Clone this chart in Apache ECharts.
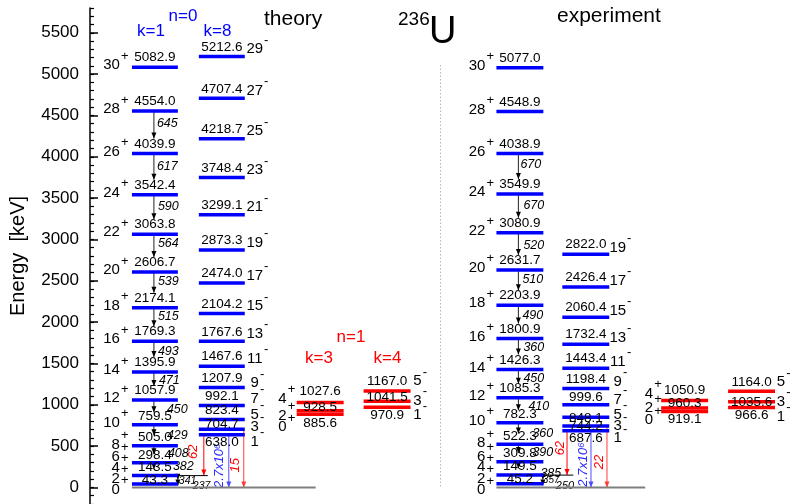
<!DOCTYPE html>
<html>
<head>
<meta charset="utf-8">
<title>236U level scheme</title>
<script src="https://cdn.jsdelivr.net/npm/echarts@6/dist/echarts.min.js"></script>
<style>
  html, body { margin: 0; padding: 0; background: #fff; }
  #chart { width: 792px; height: 504px; }
</style>
</head>
<body>
<div id="chart"></div>
<script>
// ---------- level energies (keV) ----------
const energyTicks = [0, 500, 1000, 1500, 2000, 2500, 3000, 3500, 4000, 4500, 5000, 5500];

// theory, n=0, K=1 (positive parity)
const thK1Spins = [0, 2, 4, 6, 8, 10, 12, 14, 16, 18, 20, 22, 24, 26, 28, 30];
const thK1Energies = [0, 43.3, 143.5, 298.4, 505.0, 759.5, 1057.9, 1395.9, 1769.3, 2174.1, 2606.7, 3063.8, 3542.4, 4039.9, 4554.0, 5082.9];
// gamma energies, 2->0, 4->2, ... 28->26
const thK1Gammas = [237, 341, 382, 408, 429, 450, 471, 493, 515, 539, 564, 590, 617, 645];

// theory, n=0, K=8 (negative parity)
const thK8Spins = [1, 3, 5, 7, 9, 11, 13, 15, 17, 19, 21, 23, 25, 27, 29];
const thK8Energies = [638.0, 704.7, 823.4, 992.1, 1207.9, 1467.6, 1767.6, 2104.2, 2474.0, 2873.3, 3299.1, 3748.4, 4218.7, 4707.4, 5212.6];

// theory, n=1, K=3 and K=4
const thK3Spins = [0, 2, 4];
const thK3Energies = [885.6, 928.5, 1027.6];
const thK4Spins = [1, 3, 5];
const thK4Energies = [970.9, 1041.5, 1167.0];

// experiment, K=1 band
const exK1Spins = [0, 2, 4, 6, 8, 10, 12, 14, 16, 18, 20, 22, 24, 26, 28, 30];
const exK1Energies = [0, 45.2, 149.5, 309.8, 522.3, 782.3, 1085.3, 1426.3, 1800.9, 2203.9, 2631.7, 3080.9, 3549.9, 4038.9, 4548.9, 5077.0];
// gamma energies, 2->0 ... 26->24
const exK1Gammas = [250, 357, 385, 390, 360, 410, 450, 360, 490, 510, 520, 670, 670];

// experiment, K=8 band
const exK8Spins = [1, 3, 5, 7, 9, 11, 13, 15, 17, 19];
const exK8Energies = [687.6, 744.2, 848.1, 999.6, 1198.4, 1443.4, 1732.4, 2060.4, 2426.4, 2822.0];

// experiment, n=1 bands
const exK3Spins = [0, 2, 4];
const exK3Energies = [919.1, 960.3, 1050.9];
const exK4Spins = [1, 3, 5];
const exK4Energies = [966.6, 1035.6, 1164.0];

// decay-out labels of the 1- / 3- states
const thDecayLabels = ['62', '2.7x10\u2076', '15'];
const exDecayLabels = ['62', '2.7x10\u2076', '22'];

// ---------- styling / layout ----------
const FONT = "'Liberation Sans', Arial, Helvetica, sans-serif";
const BLUE = '#0000ff';
const RED = '#ff0000';
const GREY = '#7f7f7f';

// horizontal placement of columns (x axis units, 0..703)
const layout = {
  th: { k1: [42, 88], k8: [109, 155], k3: [207, 254], k4: [274, 321], ground: [42, 226], ext: [88, 118],
        casc: 64, cascRight: 88, decayX: [114, 139, 154] },
  ex: { k1: [407, 454], k8: [473, 520], k3: [572, 619], k4: [639, 686], ground: [407, 556], ext: [454, 484],
        casc: 429, cascRight: 453.5, decayX: [477.7, 501.7, 517.7] },
  divider: 351
};

// per-band label offsets in pixels (keyed by spin)
const bands = [
  { spins: thK1Spins, energies: thK1Energies, xs: layout.th.k1, color: BLUE, sign: '+', side: 'left', ground: layout.th.ground,
    eDy: { d: -9.5, 2: -4, 4: -8.5, 6: -7.5, 8: -8, 10: -8 }, sDy: { d: -2, 0: 2, 2: -5, 4: -8, 6: -6, 8: -1 }, sGap: 12 },
  { spins: thK8Spins, energies: thK8Energies, xs: layout.th.k8, color: BLUE, sign: '-', side: 'right',
    eDy: { d: -9.5, 1: 8, 3: -5, 5: -9 }, sDy: { d: -7.5, 1: 7, 3: -2.5, 5: -4.5, 7: -7, 9: -4.5 }, sGap: 10 },
  { spins: thK3Spins, energies: thK3Energies, xs: layout.th.k3, color: RED, sign: '+', side: 'left',
    eDy: { d: -9, 0: 9.5, 2: -3.6, 4: -11.4 }, sDy: { d: 0, 0: 13, 2: 5, 4: -4 }, sGap: 10 },
  { spins: thK4Spins, energies: thK4Energies, xs: layout.th.k4, color: RED, sign: '-', side: 'right',
    eDy: { d: -9, 1: 8, 3: -4.3, 5: -10 }, sDy: { d: 0, 1: 8, 3: -1, 5: -10 }, sGap: 7 },
  { spins: exK1Spins, energies: exK1Energies, xs: layout.ex.k1, color: BLUE, sign: '+', side: 'left', ground: layout.ex.ground,
    eDy: { d: -9.5, 2: -4.5, 4: -8.5, 6: -8.5, 8: -8.5, 10: -8.5 }, sDy: { d: -2, 0: 2.5, 2: -5, 4: -8, 6: -5, 8: -1 }, sGap: 11 },
  { spins: exK8Spins, energies: exK8Energies, xs: layout.ex.k8, color: BLUE, sign: '-', side: 'right',
    eDy: { d: -9.5, 1: 7.5, 3: 0.5, 5: 0.5, 7: -7.5 }, sDy: { d: -6.5, 1: 7.5, 3: 0, 5: -2.5, 7: -5 }, sGap: 8.5 },
  { spins: exK3Spins, energies: exK3Energies, xs: layout.ex.k3, color: RED, sign: '+', side: 'left',
    eDy: { d: -9, 0: 7.5, 2: -5, 4: -10 }, sDy: { d: 0, 0: 8.5, 2: 0, 4: -7 }, sGap: 8 },
  { spins: exK4Spins, energies: exK4Energies, xs: layout.ex.k4, color: RED, sign: '-', side: 'right',
    eDy: { d: -9, 1: 8, 3: 0, 5: -9 }, sDy: { d: 0, 1: 9, 3: 0, 5: -9 }, sGap: 6 }
];

// label offsets for in-band gamma transitions: [dx from line, dy from upper level, font size]
const thGammaPos = [[15, 2.5, 10.5], [1, 5, 10.5], [19, 4, 12.5], [14, 8, 12.5], [13, 11, 12.5], [13, 10, 12.5], [5, 8, 12.5],
  [4, 10, 12.5], [4, 9, 12.5], [4, 10, 12.5], [4, 9.5, 12.5], [4, 12, 12.5], [3, 13, 12.5], [3, 13, 12.5]];
const exGammaPos = [[13, 2, 11], [0, 5, 10], [22, 11.5, 12.5], [14, 8.5, 12.5], [14, 10.5, 12.5], [10, 8.5, 12.5], [5, 9, 12.5],
  [5, 9, 12.5], [4, 10, 12.5], [4, 10, 12.5], [5, 12.5, 12.5], [5, 12, 12.5], [2, 11, 12.5]];

const pick = (tbl, key) => (tbl[key] !== undefined ? tbl[key] : tbl.d);

// ---------- build level items ----------
const levelData = [];
const levelMeta = [];
bands.forEach(b => {
  b.spins.forEach((s, i) => {
    const E = b.energies[i];
    const isGround = b.ground && E === 0;
    const xs = isGround ? b.ground : b.xs;
    levelData.push([xs[0], xs[1], E]);
    levelMeta.push({
      color: isGround ? GREY : b.color,
      width: isGround ? 2 : 3.5,
      energyText: isGround ? null : E.toFixed(1),
      eDy: pick(b.eDy, s),
      spin: String(s), sign: b.sign, side: b.side, sDy: pick(b.sDy, s), sGap: b.sGap,
      bx: b.xs
    });
  });
});

function renderLevel(params, api) {
  const m = levelMeta[params.dataIndex];
  const a = api.coord([api.value(0), api.value(2)]);
  const c = api.coord([api.value(1), api.value(2)]);
  const y = a[1];
  const band0 = api.coord([m.bx[0], 0])[0];
  const band1 = api.coord([m.bx[1], 0])[0];
  const kids = [{
    type: 'line', shape: { x1: a[0], y1: y, x2: c[0], y2: y },
    style: { stroke: m.color, lineWidth: m.width }, z2: 1
  }];
  if (m.energyText) {
    kids.push({
      type: 'text', z2: 5,
      style: { text: m.energyText, x: (band0 + band1) / 2, y: y + m.eDy, align: 'center', verticalAlign: 'middle',
        font: '13.5px ' + FONT, fill: '#000' }
    });
  }
  const ny = y + m.sDy;
  if (m.side === 'left') {
    kids.push({ type: 'text', z2: 5, style: { text: m.spin, x: band0 - m.sGap, y: ny, align: 'right', verticalAlign: 'middle', font: '15px ' + FONT, fill: '#000' } });
    kids.push({ type: 'text', z2: 5, style: { text: m.sign, x: band0 - m.sGap + 1, y: ny - 9, align: 'left', verticalAlign: 'middle', font: '13px ' + FONT, fill: '#000' } });
  } else {
    const cx = band1 + m.sGap;
    const half = m.spin.length * 0.556 * 15 / 2;
    kids.push({ type: 'text', z2: 5, style: { text: m.spin, x: cx, y: ny, align: 'center', verticalAlign: 'middle', font: '15px ' + FONT, fill: '#000' } });
    kids.push({ type: 'text', z2: 5, style: { text: m.sign, x: cx + half + 1, y: ny - 9, align: 'left', verticalAlign: 'middle', font: '13px ' + FONT, fill: '#000' } });
  }
  return { type: 'group', children: kids };
}

// ---------- build transitions ----------
// item: [x, Etop, Ebottom]
const transData = [];
const transMeta = [];

function addCascade(energies, gammas, lay, pos) {
  gammas.forEach((g, i) => {
    const lower = energies[i], upper = energies[i + 1];
    const x = i <= 1 ? lay.cascRight : lay.casc;
    transData.push([x, upper, lower]);
    transMeta.push({ color: '#222', width: 1, mode: 'cascade', text: String(g), dx: pos[i][0], dy: pos[i][1], fs: pos[i][2],
      fill: '#000', italic: true });
  });
}
addCascade(thK1Energies, thK1Gammas, layout.th, thGammaPos);
addCascade(exK1Energies, exK1Gammas, layout.ex, exGammaPos);

function addDecays(k8E, k1E, lay, labels, lblPos) {
  // 1- -> 2+ (drawn to the 4+ connector), 1- -> 0+, 3- -> 0+
  const items = [
    [lay.decayX[0], k8E[0], k1E[2], RED, labels[0]],
    [lay.decayX[1], k8E[0], 0, '#4d4dff', labels[1]],
    [lay.decayX[2], k8E[1], 0, '#ff3b3b', labels[2]]
  ];
  items.forEach((it, i) => {
    transData.push([it[0], it[1], it[2]]);
    transMeta.push({ color: it[3], width: 1, mode: 'decay', text: it[4], dx: lblPos[i][0], dy: lblPos[i][1], fs: 13,
      fill: i === 1 ? '#2a2aff' : RED, italic: true, rotate: true });
  });
  // thin connector at the 4+ level
  transData.push([lay.ext[0], k1E[2], k1E[2]]);
  transMeta.push({ color: '#000', width: 1, mode: 'hline', x2: lay.ext[1] });
}
addDecays(thK8Energies, thK1Energies, layout.th, thDecayLabels, [[-10, 17], [-9, 31], [-8, 36]]);
addDecays(exK8Energies, exK1Energies, layout.ex, exDecayLabels, [[-7, 17.5], [-7.5, 34], [-8, 36]]);

// spectrum divider
transData.push([layout.divider, 5110, -10]);
transMeta.push({ color: '#b5b5b5', width: 1, mode: 'divider' });

function renderTrans(params, api) {
  const m = transMeta[params.dataIndex];
  const top = api.coord([api.value(0), api.value(1)]);
  const bot = api.coord([api.value(0), api.value(2)]);
  const x = top[0];
  const kids = [];
  if (m.mode === 'hline') {
    const x2 = api.coord([m.x2, 0])[0];
    kids.push({ type: 'line', shape: { x1: x, y1: top[1], x2: x2, y2: top[1] }, style: { stroke: m.color, lineWidth: m.width } });
    return { type: 'group', children: kids };
  }
  if (m.mode === 'divider') {
    kids.push({ type: 'line', shape: { x1: x, y1: top[1], x2: x, y2: bot[1] },
      style: { stroke: m.color, lineWidth: m.width, lineDash: [1.5, 2] } });
    return { type: 'group', children: kids };
  }
  let yEnd = bot[1];
  if (m.mode === 'cascade') {
    const gap = bot[1] - top[1];
    yEnd = bot[1] - Math.min(15, Math.max(2, gap * 0.5));
  }
  kids.push({ type: 'line', shape: { x1: x, y1: top[1], x2: x, y2: yEnd }, style: { stroke: m.color, lineWidth: m.width } });
  kids.push({ type: 'polygon', shape: { points: [[x - 2.5, yEnd - 6], [x + 2.5, yEnd - 6], [x, yEnd]] },
    style: { fill: m.color === '#222' ? '#000' : m.color } });
  if (m.text) {
    const font = (m.italic ? 'italic ' : '') + m.fs + 'px ' + FONT;
    if (m.rotate) {
      kids.push({ type: 'text', x: x + m.dx, y: top[1] + m.dy, rotation: Math.PI / 2, z2: 6,
        style: { text: m.text, align: 'center', verticalAlign: 'middle', font: font, fill: m.fill } });
    } else {
      kids.push({ type: 'text', z2: 6,
        style: { text: m.text, x: x + m.dx, y: top[1] + m.dy, align: 'left', verticalAlign: 'middle', font: font, fill: m.fill } });
    }
  }
  return { type: 'group', children: kids };
}

// minor ticks every 100 keV across the axis range
const minorTicks = [];
for (let v = -200; v <= 5800; v += 100) minorTicks.push(v);

const txt = (text, x, y, size, color, align) => ({
  type: 'text', x: x, y: y, silent: true,
  style: { text: text, align: align || 'center', verticalAlign: 'middle', font: size + 'px ' + FONT, fill: color }
});

const option = {
  animation: false,
  backgroundColor: '#fff',
  textStyle: { fontFamily: FONT },
  grid: { left: 89, right: 0, top: 8, bottom: 0, containLabel: false },
  xAxis: { type: 'value', min: 0, max: 703, show: false },
  yAxis: [
    {
      type: 'value', min: -200, max: 5800, position: 'left',
      name: 'Energy  [keV]', nameLocation: 'middle', nameRotate: 90, nameGap: 62,
      nameTextStyle: { fontSize: 20, color: '#000', fontFamily: FONT },
      axisLine: { show: true, lineStyle: { color: '#000', width: 1.5 } },
      axisTick: { show: true, inside: true, length: 8, customValues: energyTicks, lineStyle: { color: '#000', width: 1.5 } },
      axisLabel: { customValues: energyTicks, fontSize: 17, color: '#000', margin: 11, fontFamily: FONT,
        formatter: v => String(v) },
      splitLine: { show: false }
    },
    {
      type: 'value', min: -200, max: 5800, position: 'left', offset: 0,
      axisLine: { show: false },
      axisTick: { show: true, inside: true, length: 4, customValues: minorTicks, lineStyle: { color: '#000', width: 1.2 } },
      axisLabel: { show: false },
      splitLine: { show: false }
    }
  ],
  graphic: [
    txt('n=0', 183, 16, 17, BLUE),
    txt('k=1', 151, 31, 17, BLUE),
    txt('k=8', 217.5, 31, 17, BLUE),
    txt('theory', 264, 19, 21, '#000', 'left'),
    txt('236', 398, 20, 19, '#000', 'left'),
    txt('U', 429, 33, 38, '#000', 'left'),
    txt('experiment', 557, 16, 21, '#000', 'left'),
    txt('n=1', 351, 337, 17, RED),
    txt('k=3', 319, 358, 17, RED),
    txt('k=4', 387.5, 358, 17, RED)
  ],
  series: [
    {
      type: 'custom', name: 'transitions', silent: true, z: 2,
      encode: { x: 0, y: [1, 2] },
      data: transData,
      renderItem: renderTrans
    },
    {
      type: 'custom', name: 'levels', silent: true, z: 3,
      encode: { x: [0, 1], y: 2 },
      data: levelData,
      renderItem: renderLevel
    }
  ]
};

const chart = echarts.init(document.getElementById('chart'), null, { renderer: 'canvas' });
chart.setOption(option);
</script>
</body>
</html>
